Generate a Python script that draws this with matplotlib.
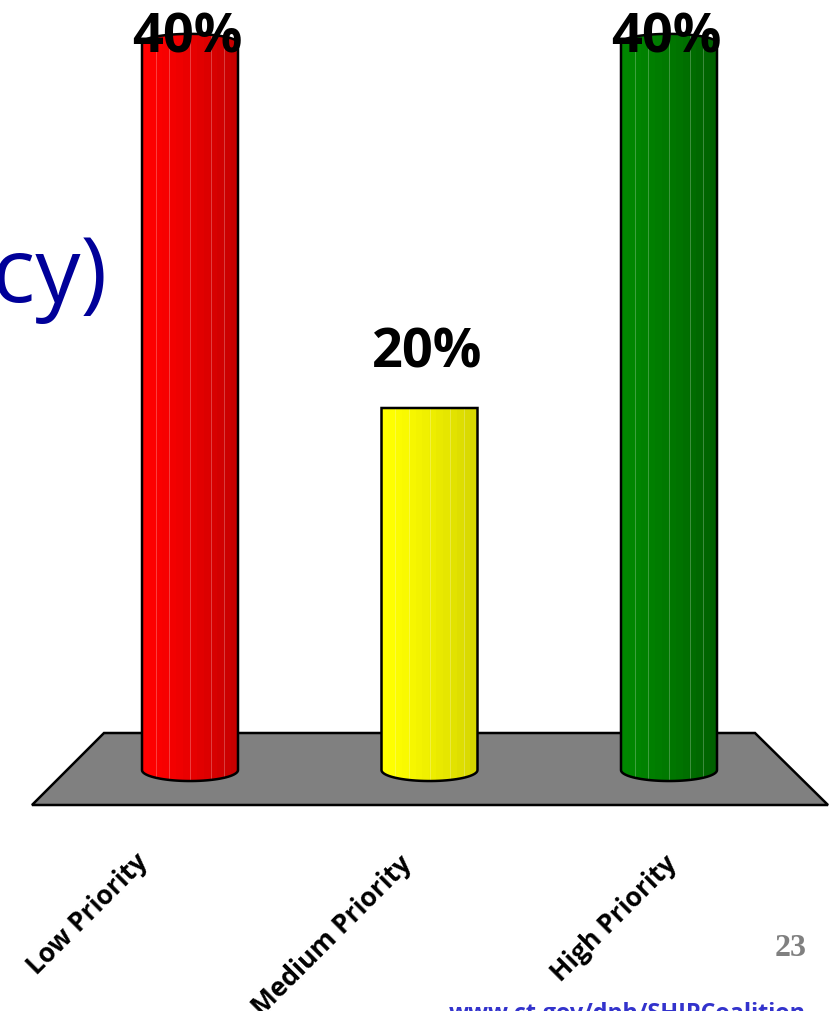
import numpy as np
import matplotlib
matplotlib.use('Agg')
import matplotlib.pyplot as plt
from matplotlib.patches import Polygon, PathPatch
from matplotlib.path import Path

# chart data
categories = ['Low Priority', 'Medium Priority', 'High Priority']
values = [40, 20, 40]
value_labels = ['40%', '20%', '40%']
light_colors = [(1.0, 0.0, 0.0), (1.0, 1.0, 0.0), (0.0, 0.53, 0.0)]
dark_colors = [(0.78, 0.0, 0.0), (0.84, 0.84, 0.0), (0.0, 0.38, 0.0)]

# page layout: pixel -> data helpers (figure is 840 x 1011 px)
W, H = 840, 1011
x0_px, dx_px = 190.0, 239.5      # category 0 centre, category spacing
y0_px, dy_px = 773.0, 18.25      # baseline, px per percent

def px2x(px):
    return (px - x0_px) / dx_px

def py2y(py):
    return (y0_px - py) / dy_px

fig = plt.figure(figsize=(W / 100, H / 100), dpi=100)
ax = fig.add_axes([0, 0, 1, 1])
ax.set_xlim(px2x(0), px2x(W))
ax.set_ylim(py2y(H), py2y(0))
ax.axis('off')

# grey floor (3D base plane)
floor = Polygon([(px2x(104), py2y(733)), (px2x(755), py2y(733)),
                 (px2x(828), py2y(805)), (px2x(32), py2y(805))],
                closed=True, facecolor='#808080', edgecolor='black', lw=1.8, zorder=1)
ax.add_patch(floor)

bar_w = 96 / dx_px
half = bar_w / 2
ell_h = 0.6     # half height of bottom ellipse (data units)
side_bottom = 0.16
ymax = max(values)

for i, v in enumerate(values):
    # silhouette of the cylinder
    t = np.linspace(np.pi, 2 * np.pi, 40)
    bottom = np.column_stack([i + half * np.cos(t), side_bottom + ell_h * np.sin(t)])
    if v == ymax:
        tt = np.linspace(0, np.pi, 40)
        top = np.column_stack([i + half * np.cos(tt), v + 0.5 * np.sin(tt)])
    else:
        top = np.array([[i + half, v], [i - half, v]])
    verts = np.vstack([[[i - half, v]], bottom, top])
    codes = [Path.MOVETO] + [Path.LINETO] * (len(verts) - 2) + [Path.CLOSEPOLY]
    shape = Path(verts, codes)
    clip = PathPatch(shape, facecolor='none', edgecolor='none')
    ax.add_patch(clip)

    # shaded vertical stripes
    n = 14
    sw = bar_w / n
    lc = np.array(light_colors[i])
    dc = np.array(dark_colors[i])
    for k in range(n):
        f = k / (n - 1)
        col = lc + (dc - lc) * f ** 1.3
        b = ax.bar(i - half + (k + 0.5) * sw, v + 1.5, width=sw * 1.05, bottom=-1,
                   color=col, linewidth=0, zorder=2)
        b[0].set_clip_path(clip)
        if k in (2, 4, 7, 10, 12):
            ln = ax.vlines(i - half + k * sw, -1, v + 1, colors='white',
                           linewidth=0.7, alpha=0.25, zorder=3)
            ln.set_clip_path(clip)

    outline = PathPatch(shape, facecolor='none', edgecolor='black', lw=1.8, zorder=4)
    ax.add_patch(outline)

    # value label (pushed down when it would leave the page)
    ty = min(v + 2.2, py2y(0) - 2.9)
    ax.text(i - 0.01, ty, value_labels[i], ha='center', va='baseline',
            fontsize=39, fontweight='bold', family='Open Sans', color='black', zorder=5)

# rotated category labels
label_anchor_px = [(144, 858), (408, 860), (673, 860)]
for lab, (ax_px, ay_px) in zip(categories, label_anchor_px):
    ax.text(px2x(ax_px), py2y(ay_px), lab, rotation=45, rotation_mode='anchor',
            ha='right', va='center', fontsize=19, fontweight='bold',
            family='Open Sans', color='black')

# fragment of the slide title and slide furniture
ax.text(px2x(107), py2y(302), 'cy)', ha='right', va='baseline', fontsize=65,
        family='Open Sans', color='#000099')
ax.text(px2x(791), py2y(956), '23', ha='center', va='baseline', fontsize=23,
        fontweight='bold', family='Liberation Serif', color='#808080')
ax.text(px2x(627), py2y(1020), 'www.ct.gov/dph/SHIPCoalition', ha='center', va='baseline',
        fontsize=16.8, fontweight='bold', family='Open Sans', color='#3333CC', clip_on=False)

fig.savefig('out.png', dpi=100)
